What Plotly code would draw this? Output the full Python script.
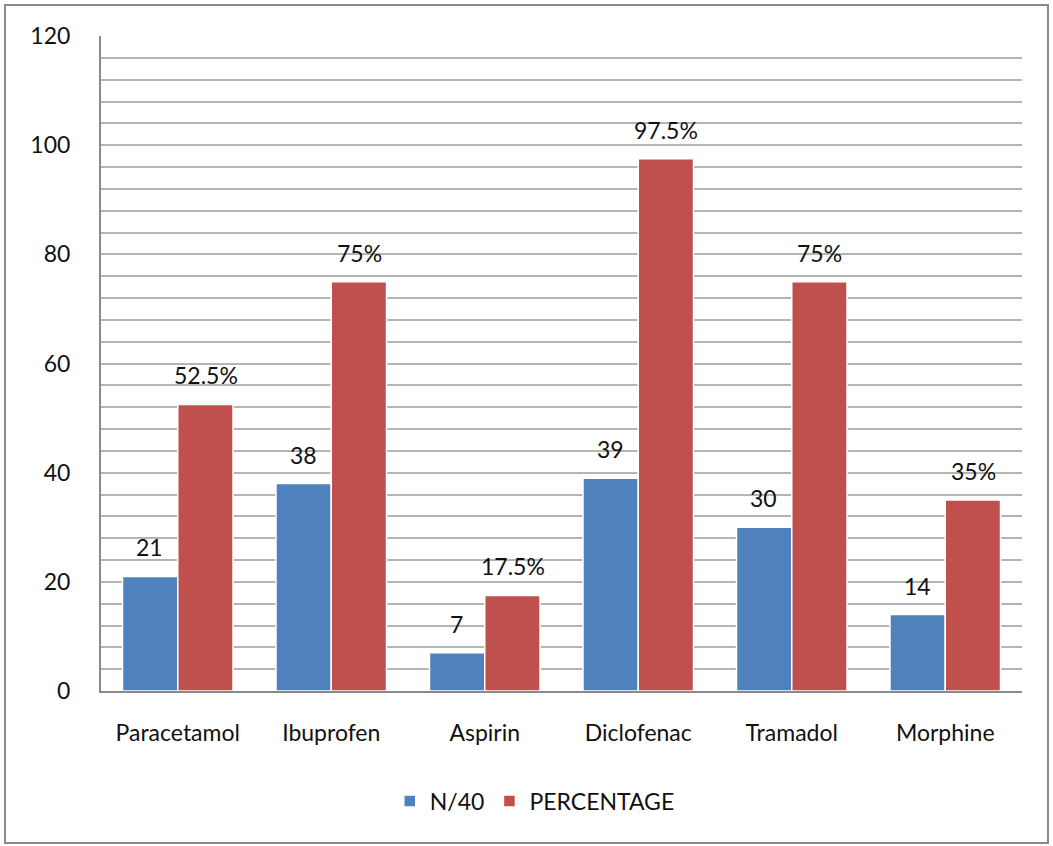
import plotly.graph_objects as go

categories = ["Paracetamol", "Ibuprofen", "Aspirin", "Diclofenac", "Tramadol", "Morphine"]
n40 = [21, 38, 7, 39, 30, 14]
percentage = [52.5, 75, 17.5, 97.5, 75, 35]
n40_labels = ["21", "38", "7", "39", "30", "14"]
pct_labels = ["52.5%", "75%", "17.5%", "97.5%", "75%", "35%"]

BLUE = "#4F81BD"
RED = "#C0504D"
FONT = "Lato"
FS = 23

fig = go.Figure()
fig.add_trace(go.Bar(name="N/40", x=categories, y=n40, marker=dict(color=BLUE, line=dict(color="white", width=1.5))))
fig.add_trace(go.Bar(name="PERCENTAGE", x=categories, y=percentage, marker=dict(color=RED, line=dict(color="white", width=1.5))))

for c, v, t in zip(categories, n40, n40_labels):
    fig.add_annotation(x=c, y=v, text=t, showarrow=False, xshift=-28, yshift=29,
                       yanchor="middle", font=dict(family=FONT, size=FS, color="#111"))
for c, v, t in zip(categories, percentage, pct_labels):
    fig.add_annotation(x=c, y=v, text=t, showarrow=False, xshift=28, yshift=29,
                       yanchor="middle", font=dict(family=FONT, size=FS, color="#111"))

fig.add_shape(type="rect", xref="paper", yref="paper", x0=-0.1042, x1=1.0282, y0=-0.232, y1=1.0473,
              line=dict(color="#8a8a8a", width=2), fillcolor="rgba(0,0,0,0)", layer="below")

fig.update_layout(
    width=1053, height=846,
    margin=dict(l=101, r=31, t=36, b=155),
    paper_bgcolor="white", plot_bgcolor="white",
    barmode="group", bargap=0.28, bargroupgap=0.0,
    font=dict(family=FONT, size=FS, color="#111"),
    showlegend=True,
    legend=dict(orientation="h", x=0.471, xanchor="center", y=-0.168, yanchor="middle",
                font=dict(family=FONT, size=FS, color="#111"), itemwidth=30),
)
fig.update_yaxes(range=[0, 120], tickvals=[0, 20, 40, 60, 80, 100, 120], showgrid=False,
                 showline=True, linecolor="#8a8a8a", linewidth=2, ticks="", ticklabelstandoff=24,
                 zeroline=False, tickfont=dict(family=FONT, size=FS, color="#111"),
                 minor=dict(dtick=4, showgrid=True, gridcolor="#b4b4b4", gridwidth=1.5))
fig.update_xaxes(showline=True, linecolor="#8a8a8a", linewidth=2, ticks="", ticklabelstandoff=20,
                 tickfont=dict(family=FONT, size=FS, color="#111"))

fig.write_html("out.html")
